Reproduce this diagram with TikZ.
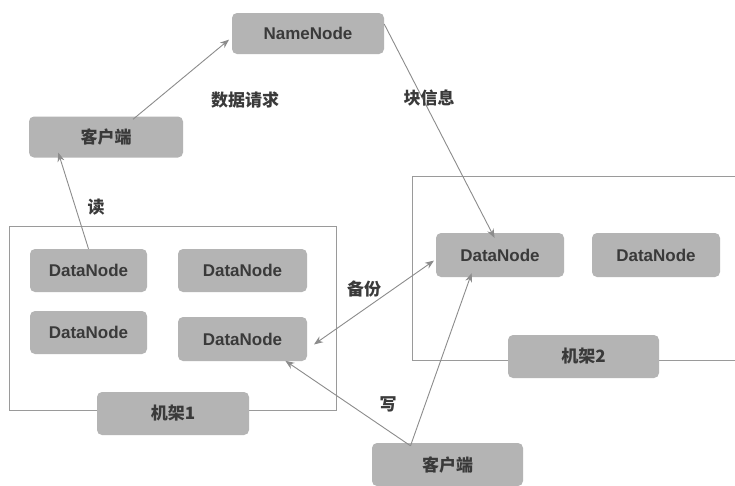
\documentclass[tikz,border=0pt]{standalone}
\usepackage{fontspec}
\setmainfont{Liberation Sans}
\newfontfamily\cjk{Noto Sans CJK SC}
\usetikzlibrary{arrows.meta}
\definecolor{boxgray}{HTML}{B4B4B4}
\definecolor{txtgray}{HTML}{3A3A3A}
\definecolor{arrgray}{HTML}{8C8C8C}
\definecolor{rackgray}{HTML}{9A9A9A}
\begin{document}
\begin{tikzpicture}[x=1pt,y=-1pt,
  box/.style={fill=boxgray,rounded corners=5pt,inner sep=0pt,text=txtgray,font=\fontsize{17}{19}\selectfont\bfseries,align=center},
  rackbox/.style={draw=rackgray,line width=0.8pt},
  conn/.style={draw=arrgray,line width=0.9pt,-{Stealth[length=9pt,width=7pt]},shorten >=1pt},
  lbl/.style={text=txtgray,font=\fontsize{17}{19}\selectfont\cjk\bfseries,inner sep=0pt}]
\useasboundingbox (0,0) rectangle (735,485);
\fill[white] (0,0) rectangle (735,485);
% racks
\draw[rackbox] (9,226) rectangle (336,410);
\draw[rackbox] (412,176) rectangle (748,360);
% nodes
\node[box,minimum width=152pt,minimum height=41pt] (nn) at (308,33.5) {NameNode};
\node[box,minimum width=154pt,minimum height=41pt] (c1) at (106,137) {\cjk\bfseries 客户端};
\node[box,minimum width=117pt,minimum height=43pt] (d1) at (88.5,270.5) {DataNode};
\node[box,minimum width=129pt,minimum height=43pt] (d2) at (242.5,270.5) {DataNode};
\node[box,minimum width=117pt,minimum height=43pt] (d3) at (88.5,332.5) {DataNode};
\node[box,minimum width=129pt,minimum height=44pt] (d4) at (242.5,339) {DataNode};
\node[box,minimum width=152pt,minimum height=43pt] (r1) at (173,413.5) {\cjk\bfseries 机架1};
\node[box,minimum width=128pt,minimum height=44pt] (e1) at (500,255) {DataNode};
\node[box,minimum width=128pt,minimum height=44pt] (e2) at (656,255) {DataNode};
\node[box,minimum width=151pt,minimum height=43pt] (r2) at (583.5,356.5) {\cjk\bfseries 机架2};
\node[box,minimum width=151pt,minimum height=43pt] (c2) at (447.5,464.5) {\cjk\bfseries 客户端};
% connectors
\draw[conn] ([xshift=27pt,yshift=-3pt]c1.north) -- ([yshift=-5.5pt,xshift=-2pt]nn.west);
\draw[conn] (d1.north) -- ([xshift=-48pt,yshift=6pt]c1.south);
\draw[conn] ([yshift=9.5pt]nn.east) -- ([xshift=-5pt,yshift=-6pt]e1.north);
\draw[conn,{Stealth[length=9pt,width=7pt]}-{Stealth[length=9pt,width=7pt]},shorten <=1pt] ([xshift=6pt,yshift=-6pt]d4.east) -- ([xshift=-1pt,yshift=-5pt]e1.west);
\draw[conn] ([xshift=-37pt,yshift=-3pt]c2.north) -- ([xshift=42pt,yshift=1pt]d4.south);
\draw[conn] ([xshift=-37pt,yshift=-3pt]c2.north) -- ([xshift=-28pt,yshift=5pt]e1.south);
% labels
\node[lbl] (l1) at (245,100) {数据请求};
\node[lbl] (l2) at (96,207) {读};
\node[lbl] (l3) at (429,98) {块信息};
\node[lbl] (l4) at (364,289) {备份};
\node[lbl] (l5) at (388,404) {写};
\end{tikzpicture}
\end{document}
